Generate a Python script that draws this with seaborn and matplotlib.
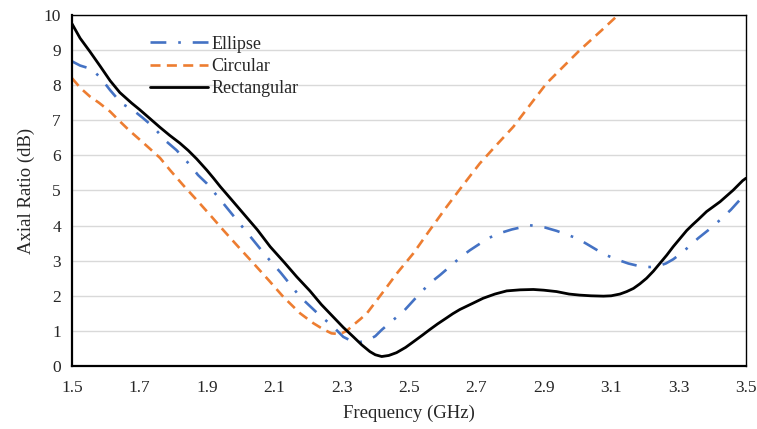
import matplotlib
matplotlib.use("Agg")
import matplotlib.pyplot as plt
import seaborn as sns
import pandas as pd

rect_x = [1.50, 1.524, 1.553, 1.583, 1.613, 1.642, 1.677, 1.70, 1.73, 1.761, 1.79, 1.82, 1.845,
          1.87, 1.90, 1.92, 1.94, 1.975, 2.008, 2.05, 2.088, 2.13, 2.167, 2.206, 2.24, 2.275,
          2.305, 2.335, 2.36, 2.384, 2.40, 2.419, 2.44, 2.463, 2.49, 2.513, 2.54, 2.562, 2.585,
          2.61, 2.63, 2.651, 2.69, 2.72, 2.755, 2.79, 2.83, 2.869, 2.90, 2.938, 2.975, 3.006,
          3.04, 3.077, 3.10, 3.126, 3.146, 3.166, 3.185, 3.205, 3.225, 3.245, 3.265, 3.284,
          3.304, 3.324, 3.341, 3.358, 3.383, 3.423, 3.462, 3.49, 3.50]
rect_y = [9.75, 9.34, 8.96, 8.55, 8.13, 7.79, 7.49, 7.31, 7.06, 6.80, 6.57, 6.35, 6.14,
          5.90, 5.58, 5.35, 5.11, 4.72, 4.35, 3.88, 3.40, 2.95, 2.54, 2.14, 1.75, 1.40,
          1.10, 0.83, 0.60, 0.41, 0.32, 0.27, 0.30, 0.38, 0.53, 0.69, 0.88, 1.04, 1.20,
          1.36, 1.49, 1.61, 1.79, 1.93, 2.05, 2.14, 2.17, 2.18, 2.16, 2.12, 2.05, 2.02,
          2.00, 1.99, 2.00, 2.05, 2.12, 2.21, 2.34, 2.50, 2.70, 2.93, 3.16, 3.40,
          3.63, 3.86, 4.02, 4.17, 4.40, 4.68, 5.01, 5.28, 5.35]

ell_x = [1.50, 1.524, 1.558, 1.585, 1.613, 1.647, 1.68, 1.71, 1.74, 1.781, 1.81, 1.85, 1.874,
         1.90, 1.945, 1.989, 2.034, 2.078, 2.12, 2.177, 2.231, 2.275, 2.305, 2.34, 2.375, 2.40,
         2.419, 2.453, 2.483, 2.523, 2.562, 2.592, 2.627, 2.653, 2.681, 2.735, 2.768, 2.805,
         2.859, 2.902, 2.938, 2.975, 3.00, 3.027, 3.062, 3.09, 3.121, 3.151, 3.19, 3.215,
         3.24, 3.262, 3.284, 3.314, 3.358, 3.388, 3.423, 3.455, 3.488, 3.50]
ell_y = [8.68, 8.56, 8.46, 8.21, 7.86, 7.48, 7.30, 7.07, 6.82, 6.39, 6.15, 5.73, 5.44,
         5.20, 4.68, 4.16, 3.63, 3.11, 2.65, 1.97, 1.48, 1.12, 0.83, 0.66, 0.72, 0.85,
         1.03, 1.31, 1.55, 1.97, 2.36, 2.59, 2.88, 3.10, 3.30, 3.64, 3.78, 3.89,
         4.01, 3.95, 3.85, 3.72, 3.63, 3.48, 3.28, 3.14, 3.02, 2.92, 2.83, 2.82,
         2.85, 2.92, 3.04, 3.26, 3.64, 3.87, 4.16, 4.45, 4.80, 4.90]

circ_x = [1.50, 1.525, 1.553, 1.58, 1.613, 1.642, 1.67, 1.702, 1.73, 1.761, 1.791, 1.83, 1.87,
          1.91, 1.949, 1.995, 2.038, 2.085, 2.127, 2.177, 2.216, 2.245, 2.27, 2.295, 2.315,
          2.335, 2.355, 2.375, 2.424, 2.465, 2.513, 2.56, 2.612, 2.66, 2.71, 2.76, 2.81, 2.86,
          2.908, 2.96, 3.007, 3.07, 3.126, 3.16]
circ_y = [8.20, 7.92, 7.68, 7.50, 7.25, 6.97, 6.71, 6.44, 6.20, 5.93, 5.58, 5.15, 4.73,
          4.30, 3.87, 3.38, 2.93, 2.43, 1.97, 1.50, 1.22, 1.05, 0.93, 0.91, 1.00,
          1.17, 1.33, 1.50, 2.12, 2.65, 3.21, 3.85, 4.54, 5.15, 5.77, 6.30, 6.82, 7.45,
          8.05, 8.55, 9.00, 9.55, 10.05, 10.35]

x_ticks = [1.5, 1.7, 1.9, 2.1, 2.3, 2.5, 2.7, 2.9, 3.1, 3.3, 3.5]
y_ticks = [0, 1, 2, 3, 4, 5, 6, 7, 8, 9, 10]

sns.set_style("white")
plt.rcParams['font.family'] = ['Liberation Serif', 'DejaVu Serif']

fig = plt.figure(figsize=(7.57, 4.29), dpi=100)
ax = fig.add_axes([72/757, 63/429, 674/757, 351/429])

for yv in y_ticks[1:]:
    ax.axhline(yv, color='#D9D9D9', lw=1.0, zorder=0)

df_e = pd.DataFrame({'x': ell_x, 'y': ell_y})
df_c = pd.DataFrame({'x': circ_x, 'y': circ_y})
df_r = pd.DataFrame({'x': rect_x, 'y': rect_y})

sns.lineplot(data=df_e, x='x', y='y', ax=ax, color='#4472C4', lw=1.9, sort=False,
             estimator=None, label='Ellipse')
sns.lineplot(data=df_c, x='x', y='y', ax=ax, color='#ED7D31', lw=1.9, sort=False,
             estimator=None, label='Circular')
sns.lineplot(data=df_r, x='x', y='y', ax=ax, color='black', lw=2.0, sort=False,
             estimator=None, label='Rectangular')

data_lines = [l for l in ax.get_lines() if len(l.get_xdata()) > 2]
data_lines[0].set_dashes((6, 4.5, 1, 4.5))
data_lines[1].set_dashes((3.8, 2.4))
for l in data_lines:
    l.set_solid_joinstyle('round')
    l.set_dash_joinstyle('round')

ax.set_xlim(1.5, 3.5)
ax.set_ylim(0, 10)
ax.set_xticks(x_ticks)
ax.set_xticklabels([f"{v:.1f}" for v in x_ticks])
ax.set_yticks(y_ticks)
ax.tick_params(axis='x', direction='in', length=5, width=1, color='black', labelsize=12.5, pad=10)
ax.tick_params(axis='y', length=0, labelsize=12.5, pad=8)
ax.set_xlabel('Frequency (GHz)', fontsize=13.5, labelpad=6)
ax.set_ylabel('Axial Ratio (dB)', fontsize=13.5, labelpad=6)

for s in ['left', 'bottom']:
    ax.spines[s].set_color('black')
    ax.spines[s].set_linewidth(1.6)
for s in ['top', 'right']:
    ax.spines[s].set_color('black')
    ax.spines[s].set_linewidth(1.0)

leg = ax.legend(handles=data_lines, labels=['Ellipse', 'Circular', 'Rectangular'],
                loc='upper left', bbox_to_anchor=(0.105, 0.962), frameon=False,
                fontsize=13, handlelength=3.2, handletextpad=0.2, labelspacing=0.3,
                borderaxespad=0)

fig.savefig('out.png', dpi=100)
